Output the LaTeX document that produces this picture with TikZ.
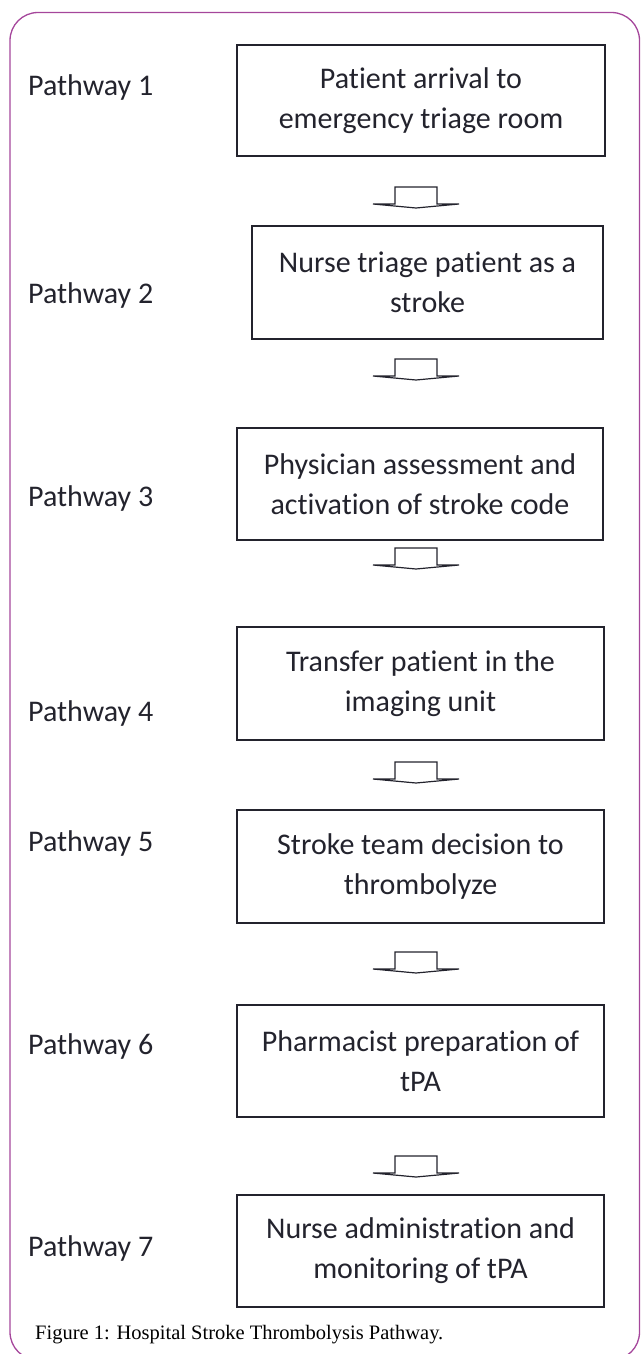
\documentclass[tikz,border=0pt]{standalone}
\usepackage{fontspec}
\usepackage{tikz}
\usetikzlibrary{positioning}
\newfontfamily\calibfont[Ligatures=NoCommon]{Carlito}
\newfontfamily\capfont{Liberation Serif}
\definecolor{mypurple}{RGB}{165,70,155}
\definecolor{mydark}{RGB}{35,35,45}
\tikzset{
  stepbox/.style={rectangle, draw=mydark, fill=white, line width=1.3pt,
    align=center, inner sep=0pt, text=mydark,
    font=\calibfont\fontsize{30}{40}\selectfont},
  pathlabel/.style={anchor=west, inner sep=0pt, text=mydark,
    font=\calibfont\fontsize{30}{36}\selectfont},
  blockarrow/.style={draw=mydark, fill=white, line width=1.2pt, line join=miter},
  downblock/.pic={
    \draw[blockarrow] (-21,0) -- (21,0) -- (21,17) -- (43,17) -- (0,21)
      -- (-43,17) -- (-21,17) -- cycle;
  }
}

\begin{document}
\begin{tikzpicture}[x=1pt, y=-1pt]
  \useasboundingbox (0,0) rectangle (641,1354);
  % Outer frame
  \draw[mypurple, line width=1.3pt, rounded corners=28pt] (10,12.5) rectangle (639.5,1360);
  % Steps
  \node[stepbox, minimum width=368pt, minimum height=111pt] (s1) at (421,100.5)
    {Patient arrival to\\emergency triage room};
  \node[stepbox, minimum width=351pt, minimum height=113pt] (s2) at (427.5,282.5)
    {Nurse triage patient as a\\stroke};
  \node[stepbox, minimum width=366pt, minimum height=112pt] (s3) at (420,484)
    {Physician assessment and\\activation of stroke code};
  \node[stepbox, minimum width=367pt, minimum height=113pt] (s4) at (420.5,683.5)
    {Transfer patient in the\\imaging unit};
  \node[stepbox, minimum width=367pt, minimum height=113pt] (s5) at (420.5,866.5)
    {Stroke team decision to\\thrombolyze};
  \node[stepbox, minimum width=367pt, minimum height=112pt] (s6) at (420.5,1061)
    {Pharmacist preparation of\\tPA};
  \node[stepbox, minimum width=367pt, minimum height=112pt] (s7) at (420.5,1251)
    {Nurse administration and\\monitoring of tPA};
  % Pathway labels
  \node[pathlabel] (p1) at (28,88) {Pathway 1};
  \node[pathlabel] (p2) at (28,295) {Pathway 2};
  \node[pathlabel] (p3) at (28,498) {Pathway 3};
  \node[pathlabel] (p4) at (28,713) {Pathway 4};
  \node[pathlabel] (p5) at (28,843) {Pathway 5};
  \node[pathlabel] (p6) at (28,1046) {Pathway 6};
  \node[pathlabel] (p7) at (28,1248) {Pathway 7};
  % Block arrows between the steps
  \coordinate (a1) at (416,187);
  \coordinate (a2) at (416,359);
  \coordinate (a3) at (416,548);
  \coordinate (a4) at (416,762);
  \coordinate (a5) at (416,952);
  \coordinate (a6) at (416,1156);
  \foreach \a in {a1,a2,a3,a4,a5,a6}
    \pic at (\a) {downblock};
  % Caption
  \node[anchor=base west, inner sep=0pt, font=\capfont\fontsize{20.5}{25}\selectfont]
    (cap) at (35,1339) {Figure 1: Hospital Stroke Thrombolysis Pathway.};
\end{tikzpicture}
\end{document}
